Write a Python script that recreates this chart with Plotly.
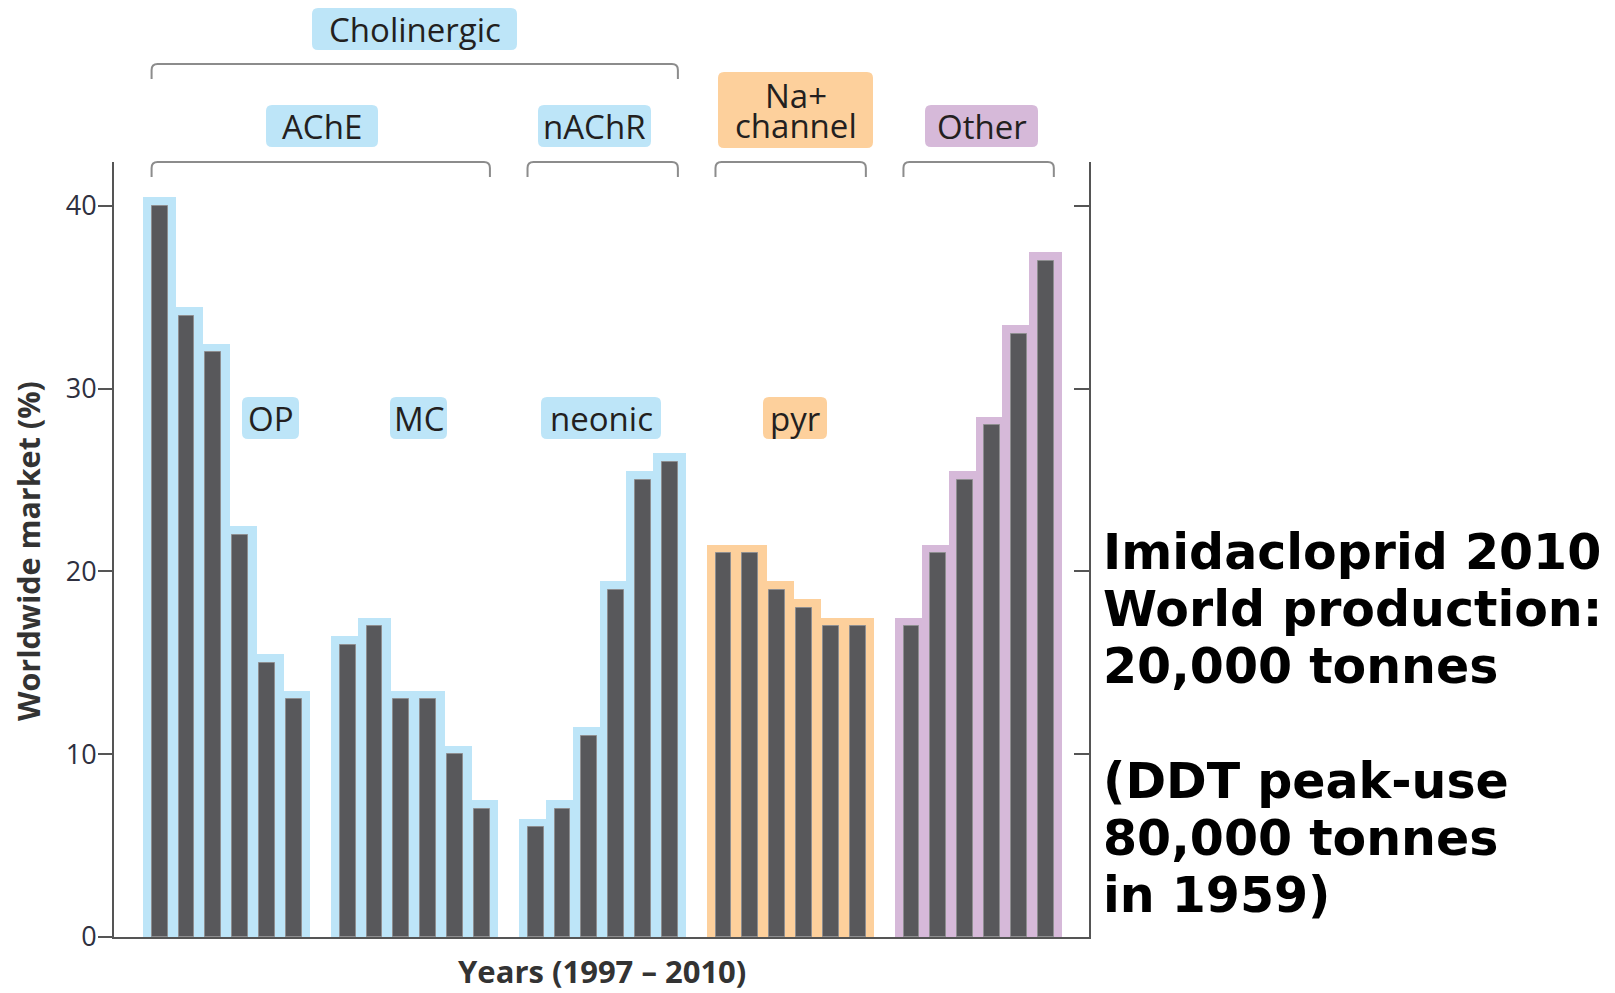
import plotly.graph_objects as go

# ---------------- data ----------------
classes = ["OP", "MC", "neonic", "pyr", "Other"]
op_vals = [40, 34, 32, 22, 15, 13]
mc_vals = [16, 17, 13, 13, 10, 7]
neonic_vals = [6, 7, 11, 19, 25, 26]
pyr_vals = [21, 21, 19, 18, 17, 17]
other_vals = [17, 21, 25, 28, 33, 37]
y_ticks = [0, 10, 20, 30, 40]

series = [op_vals, mc_vals, neonic_vals, pyr_vals, other_vals]
halo_colors = ["#bde5f8", "#bde5f8", "#bde5f8", "#fdd09c", "#d6b9d9"]
BAR_COLOR = "#58585b"

# ---------------- geometry (page pixels; the page body adds an 8px margin) ----------------
OFF = 8
W_PAGE, H_PAGE = 1615 - OFF, 993 - OFF
L, R, T, B = 114, 1089, 162, 937      # plot area in page pixels
PW, PH = R - L, B - T
XMIN, XMAX = -1.70, 34.61
YMAX = 42.4
SLOT_GAP = 7
BAR_W = 0.59
HALO_PAD_X = 0.32
HALO_PAD_Y = 0.47


def px(xp):
    return (xp - L) / PW


def py(yp):
    return (B - yp) / PH


def slot_px(s):
    return L + (s - XMIN) / (XMAX - XMIN) * PW


xs, ys, hy, hc = [], [], [], []
for g, vals in enumerate(series):
    for i, v in enumerate(vals):
        x = g * SLOT_GAP + i
        xs.append(x)
        ys.append(v)
        hy.append(v + HALO_PAD_Y)
        hc.append(halo_colors[g])

fig = go.Figure()
fig.add_trace(go.Bar(x=xs, y=hy, width=BAR_W + 2 * HALO_PAD_X,
                     marker=dict(color=hc, line=dict(width=0), opacity=1),
                     hoverinfo="skip", showlegend=False))
fig.add_trace(go.Bar(x=xs, y=ys, width=BAR_W,
                     marker=dict(color=BAR_COLOR, line=dict(width=1, color="#8e8e90"), opacity=1),
                     showlegend=False))

shapes = []
annotations = []
LABEL_FONT = dict(family="Open Sans", size=33, color="#231f20")


def rounded_rect(x0, y0, x1, y1, r, fill):
    p = (f"M {px(x0 + r)},{py(y0)} L {px(x1 - r)},{py(y0)} Q {px(x1)},{py(y0)} {px(x1)},{py(y0 + r)} "
         f"L {px(x1)},{py(y1 - r)} Q {px(x1)},{py(y1)} {px(x1 - r)},{py(y1)} "
         f"L {px(x0 + r)},{py(y1)} Q {px(x0)},{py(y1)} {px(x0)},{py(y1 - r)} "
         f"L {px(x0)},{py(y0 + r)} Q {px(x0)},{py(y0)} {px(x0 + r)},{py(y0)} Z")
    shapes.append(dict(type="path", path=p, xref="paper", yref="paper",
                       fillcolor=fill, line=dict(width=0), layer="above"))


def label_box(text_lines, x0, y0, x1, y1, fill, line_gap=30):
    rounded_rect(x0, y0, x1, y1, 6, fill)
    cx = (x0 + x1) / 2
    cy = (y0 + y1) / 2
    n = len(text_lines)
    for k, t in enumerate(text_lines):
        yy = cy + (k - (n - 1) / 2) * line_gap
        ann = dict(text=t, x=px(cx), y=py(yy), xref="paper", yref="paper",
                   xanchor="center", yanchor="middle", showarrow=False,
                   font=LABEL_FONT)
        if n > 1:
            ann["height"] = line_gap - 2
        annotations.append(ann)


def bracket(s0, s1, ytop, leg=15, r=6):
    x0 = slot_px(s0 - 0.3)
    x1 = slot_px(s1 + 0.3)
    yb = ytop + leg
    p = (f"M {px(x0)},{py(yb)} L {px(x0)},{py(ytop + r)} Q {px(x0)},{py(ytop)} {px(x0 + r)},{py(ytop)} "
         f"L {px(x1 - r)},{py(ytop)} Q {px(x1)},{py(ytop)} {px(x1)},{py(ytop + r)} L {px(x1)},{py(yb)}")
    shapes.append(dict(type="path", path=p, xref="paper", yref="paper",
                       line=dict(color="#8c8c8c", width=2)))


# brackets
bracket(0, 2 * SLOT_GAP + 5, 64)               # Cholinergic
bracket(0, SLOT_GAP + 5, 162)                  # AChE
bracket(2 * SLOT_GAP, 2 * SLOT_GAP + 5, 162)   # nAChR
bracket(3 * SLOT_GAP, 3 * SLOT_GAP + 5, 162)   # Na+ channel
bracket(4 * SLOT_GAP, 4 * SLOT_GAP + 5, 162)   # Other

BLUE, ORANGE, PURPLE = halo_colors[0], halo_colors[3], halo_colors[4]
label_box(["Cholinergic"], 312, 8, 517, 50, BLUE)
label_box(["AChE"], 266, 105, 378, 147, BLUE)
label_box(["nAChR"], 538, 105, 651, 147, BLUE)
label_box(["Na+", "channel"], 718, 72, 873, 148, ORANGE)
label_box(["Other"], 925, 105, 1038, 147, PURPLE)
label_box(["OP"], 242, 397, 299, 439, BLUE)
label_box(["MC"], 390, 397, 447, 439, BLUE)
label_box(["neonic"], 541, 397, 661, 439, BLUE)
label_box(["pyr"], 763, 397, 827, 439, ORANGE)

# axis titles
annotations.append(dict(text="<b>Worldwide market (%)</b>", x=px(28), y=py(551), xref="paper", yref="paper",
                        textangle=-90, showarrow=False, xanchor="center", yanchor="middle",
                        font=dict(family="Open Sans", size=30.5, color="#333333")))
annotations.append(dict(text="<b>Years (1997 – 2010)</b>", x=px(602), y=py(971), xref="paper", yref="paper",
                        showarrow=False, xanchor="center", yanchor="middle",
                        font=dict(family="Open Sans", size=31, color="#333333")))

# right-hand note
note_lines = ["Imidacloprid 2010", "World production:", "20,000 tonnes", "",
              "(DDT peak-use", "80,000 tonnes", "in 1959)"]
for k, t in enumerate(note_lines):
    if not t:
        continue
    annotations.append(dict(text=f"<b>{t}</b>", x=px(1101), y=py(552 + 57.3 * k), xref="paper", yref="paper",
                            showarrow=False, xanchor="left", yanchor="middle",
                            font=dict(family="DejaVu Sans", size=49, color="#000000")))

fig.update_layout(
    width=W_PAGE, height=H_PAGE,
    margin=dict(l=L - OFF, r=(W_PAGE + OFF) - R, t=T - OFF, b=(H_PAGE + OFF) - B, pad=0),
    paper_bgcolor="white", plot_bgcolor="white",
    barmode="overlay", bargap=0,
    shapes=shapes, annotations=annotations,
    xaxis=dict(range=[XMIN, XMAX], showgrid=False, zeroline=False, showticklabels=False,
               ticks="", showline=True, linecolor="#555555", linewidth=2),
    yaxis=dict(range=[0, YMAX], tickvals=y_ticks, ticks="outside", ticklen=14, tickwidth=1.5,
               tickcolor="#555555", showgrid=False, zeroline=False, showline=True,
               linecolor="#555555", linewidth=2, ticklabelstandoff=-4,
               tickfont=dict(family="Open Sans", size=27, color="#2e3040")),
    yaxis2=dict(range=[0, YMAX], tickvals=y_ticks, ticks="inside", ticklen=15, tickwidth=1.5,
                tickcolor="#555555", overlaying="y", side="right", showticklabels=False,
                showgrid=False, zeroline=False, showline=True, linecolor="#555555", linewidth=2),
)
# invisible trace that activates the right-hand axis
fig.add_trace(go.Scatter(x=[XMIN], y=[0], yaxis="y2", mode="markers",
                         marker=dict(opacity=0), hoverinfo="skip", showlegend=False))

fig.write_html("out.html")
